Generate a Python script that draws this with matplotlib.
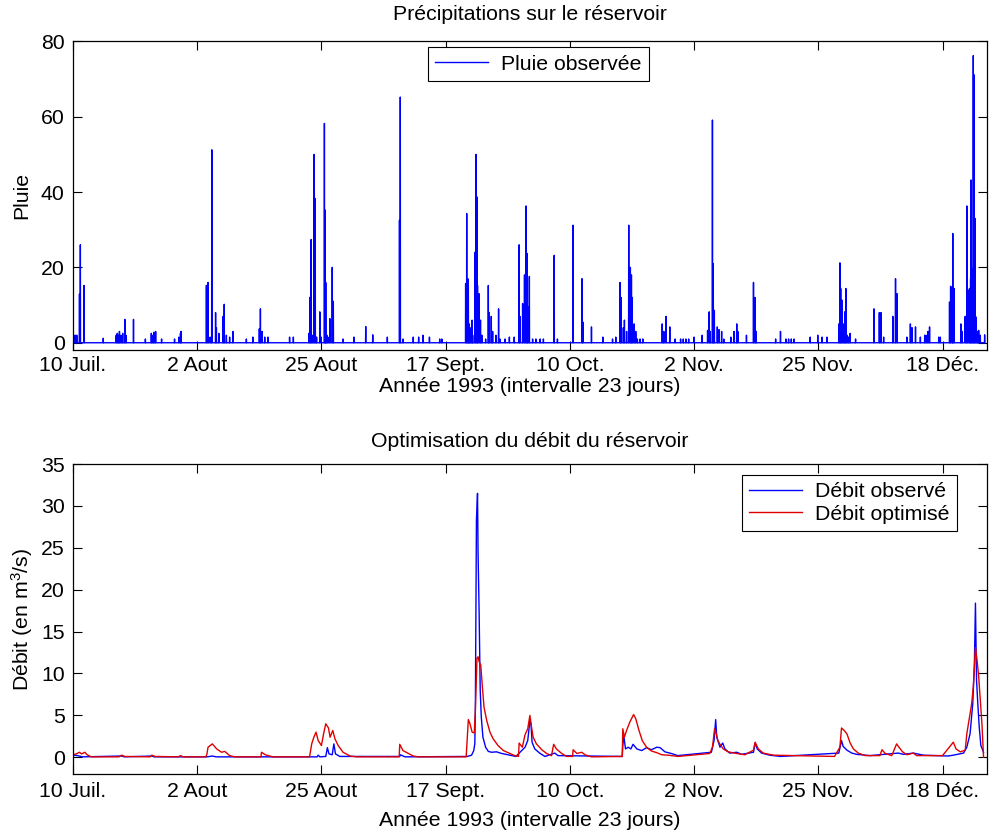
import numpy as np
import matplotlib
matplotlib.use("Agg")
import matplotlib.pyplot as plt

plt.rcParams["font.family"] = ["Liberation Sans", "DejaVu Sans"]
plt.rcParams["mathtext.fontset"] = "custom"
plt.rcParams["mathtext.rm"] = "Liberation Sans"
plt.rcParams["mathtext.it"] = "Liberation Sans:italic"

# ---- axis labels / ticks -------------------------------------------------
tick_days = [0, 23, 46, 69, 92, 115, 138, 161]
tick_labels = ["10 Juil.", "2 Aout", "25 Aout", "17 Sept.", "10 Oct.",
               "2 Nov.", "25 Nov.", "18 Déc."]
x_max = 169.3

# ---- rainfall events (day since 10 July 1993, mm) -------------------------
rain_day = [0.2, 0.5, 0.7, 1.2, 1.36, 2.04, 5.6, 8.0, 8.2, 8.4, 8.6, 8.9, 9.2,
            9.6, 9.8, 11.2, 13.4, 14.5, 14.8, 15.0, 15.3, 16.4, 18.8, 19.6,
            19.9, 20.0, 24.7, 25.0, 25.4, 25.7, 26.4, 26.55, 27.0, 27.8, 28.0,
            28.4, 29.0, 29.6, 32.1, 33.3,
            34.5, 34.7, 35.0, 35.5, 36.1, 40.1, 40.8, 43.7, 43.9, 44.1, 44.4,
            44.65, 44.85, 45.1, 45.7, 45.95, 46.55, 46.7, 46.8, 47.0, 47.2,
            47.55, 48.0, 48.2, 50.0, 52.0, 54.2, 55.5, 58.2, 60.45, 60.6, 61.1,
            63.0, 64.0, 64.8, 66.0,
            67.9, 68.3, 72.7, 72.9, 73.1, 73.2, 73.35, 73.5, 73.7, 73.9, 74.0,
            74.4, 74.6, 74.8, 74.9, 75.2, 75.45, 75.7, 76.4, 76.9, 77.05, 77.45,
            77.7, 78.3, 78.8, 79.05, 80.0, 80.8, 81.7, 82.6, 82.75, 83.25, 83.6,
            83.9, 84.1, 84.25, 84.5, 85.1, 85.7, 86.5, 87.1, 89.1, 89.7, 92.6,
            94.25, 94.4, 96.0, 98.1, 99.9, 100.5, 101.3, 101.5,
            101.9, 102.1, 102.5, 102.9, 103.2, 103.4, 103.55, 103.9, 104.2,
            104.5, 105.0, 105.5, 109.1, 109.4, 109.8, 110.5, 111.5, 112.5,
            113.0, 113.5, 114.0, 115.0, 116.5, 117.5, 117.8, 118.0, 118.4,
            118.55, 118.75, 119.3, 119.6, 120.1, 120.5, 121.8, 122.4, 122.9,
            123.1, 124.7, 126.0, 126.3, 126.5, 130.1, 131.0, 132.0, 132.5,
            133.0, 133.5,
            136.5, 137.9, 138.7, 139.6, 141.8, 142.0, 142.15, 142.4, 142.6,
            142.9, 143.1, 143.3, 143.6, 143.9, 144.9, 148.3, 149.3, 149.6,
            150.1, 151.8, 152.3, 152.6, 154.4, 155.05, 155.35, 156.0, 156.9,
            157.7, 157.95, 158.3, 158.6, 160.3, 160.6, 162.3, 162.5, 162.8,
            162.9, 163.15, 164.4, 164.6, 165.2, 165.5, 165.7, 166.0, 166.2,
            166.3, 166.5, 166.7, 166.85, 167.05, 167.25, 167.5, 167.7, 168.0,
            168.8]
rain_mm = [2, 2, 2, 12.9, 26, 15.2, 1.2, 2, 2.5, 2, 3, 2, 2.5,
           6.2, 2, 6.2, 1, 2.5, 2, 2.8, 3, 1, 1, 1.5,
           2.5, 3, 15.2, 16, 1.5, 51.2, 8, 4, 2.5, 7, 10.2,
           2, 1.5, 3, 1, 1.5,
           3.7, 9, 3, 1.5, 1.5, 1.5, 1.5, 2.5, 12.1, 27.4, 2,
           50, 38.3, 1.5, 8.2, 1.5, 58.2, 35.2, 16, 2, 1.5,
           6.4, 20, 11, 1, 1.5, 4.3, 2.1, 1.5, 32.5, 65.2, 1,
           1.5, 1.5, 2, 1.5,
           1, 1, 15.7, 34.3, 17, 15.2, 5, 3, 4, 6, 2,
           24, 50, 38.7, 15.2, 13, 6, 2, 1, 15.2, 8, 7,
           3, 2, 9, 1, 1, 1.5, 1.5, 26, 7, 10.4, 18,
           36.3, 23.7, 9.5, 17.6, 1, 1, 1, 1, 23.2, 1, 31.2,
           17, 5.5, 4.2, 1.5, 1, 1.5, 16, 12,
           4, 6, 3, 31.2, 20, 18, 12, 5, 3,
           1, 1, 1, 5, 3, 7, 4.2, 1, 1,
           1, 1, 1, 1.5, 2, 3.3, 8.2, 3, 59.1,
           21, 8.6, 4.2, 3.5, 3, 1, 1.5, 3, 5,
           3, 2, 16, 12, 3, 1, 3, 1, 1,
           1, 1,
           1.5, 2, 1.5, 1.5, 5, 21.2, 14.4, 11.3, 5,
           8.2, 14.4, 2, 1.5, 2.5, 1, 9, 8, 8,
           1.5, 7, 17, 13, 1.5, 5, 4, 4.2, 1.5,
           2, 2, 3, 4.2, 1.5, 1.5, 10.8, 15, 14.8,
           29, 14.4, 5, 3, 7, 36.3, 14, 14.4, 17,
           43.2, 19.7, 76.2, 71.1, 33, 6.8, 3, 3.3, 2,
           2.1]

# ---- reservoir outflow (day, m3/s) ---------------------------------------
obs_day = [0, 0.8, 1.8, 9.0, 9.5, 14.6, 15.0, 24.8, 25.8, 26.5, 45.2, 45.4,
           45.7, 46.8, 47.1, 47.4, 48.0, 48.3, 48.6, 49.4, 60.5, 60.6, 61.5,
           73.0, 73.8, 74.2, 74.4, 74.5, 74.7, 74.9, 75.0, 75.2, 75.4, 75.6,
           75.9, 76.4, 76.9, 77.5, 78.4, 79.4, 80.9, 82.0, 83.7, 84.2, 84.6,
           84.8, 85.0, 85.5, 86.5, 87.4, 89.2, 89.8, 101.7, 101.8, 102.0,
           102.3, 102.8, 103.3, 103.7, 104.4, 105.3, 106.2, 107.1, 108.1,
           108.7, 109.6, 110.8, 112.0, 118.2, 118.7, 119.0, 119.2, 119.5,
           119.8, 120.3, 120.7, 121.6, 122.9, 123.8, 126.0, 126.3, 126.7,
           127.5, 129.0, 131.0, 141.8, 142.3, 142.6, 143.3, 144.2, 145.1,
           147.6, 152.8, 153.8, 155.6, 157.5, 162.0, 163.0, 164.9, 165.5,
           166.1, 166.6, 166.9, 167.1, 167.3, 167.5, 167.8, 168.1, 168.6]
obs_q = [0.25, 0.2, 0.05, 0.15, 0.05, 0.15, 0.05, 0.05, 0.15, 0.05, 0.05, 0.25,
         0.05, 0.1, 1.15, 0.4, 0.3, 1.6, 0.4, 0.1, 0.1, 0.3, 0.05,
         0.1, 0.25, 0.8, 1.6, 5.6, 28.3, 31.5, 24.5, 17.2, 8.0, 4.8,
         2.4, 1.2, 0.7, 0.6, 0.65, 0.45, 0.25, 0.1, 1.2, 2.0, 4.4,
         4.0, 1.8, 1.0, 0.45, 0.1, 0.5, 0.2, 0.1, 1.45, 2.5,
         1.0, 1.2, 1.0, 1.55, 1.0, 0.8, 1.15, 0.9, 1.2,
         1.15, 0.65, 0.45, 0.2, 0.6, 2.0, 4.5, 2.4, 1.8,
         1.2, 1.7, 1.0, 0.5, 0.6, 0.35, 0.6, 1.7, 1.0,
         0.5, 0.25, 0.1, 0.5, 2.0, 1.3, 0.85, 0.5, 0.35,
         0.2, 0.5, 0.35, 0.5, 0.25, 0.15, 0.25, 0.5, 1.2,
         2.8, 6.4, 11.0, 18.4, 9.2, 6.8, 3.6, 1.4, 0.6]

opt_day = [0, 0.6, 1.2, 1.6, 2.2, 2.6, 3.4, 8.5, 9.0, 9.6, 14.3, 14.6, 15.2,
           19.5, 19.9, 20.4, 24.6, 24.8, 25.0, 25.8, 26.6, 27.5, 28.1, 29.0,
           30.0, 34.8, 34.9, 35.6, 37.0, 43.8, 44.2, 44.6, 45.0, 45.4, 46.0,
           46.4, 46.8, 47.3, 47.6, 48.1, 48.5, 49.1, 50.0, 51.3, 52.5, 60.4,
           60.5, 61.1, 62.1, 63.0, 64.0, 72.8, 72.9, 73.2, 73.5, 73.9, 74.3,
           74.5, 74.8, 75.0, 75.2, 75.5, 75.8, 76.1, 76.6, 77.2, 77.8, 78.7,
           79.7, 80.9, 81.8, 82.5, 82.6, 83.2, 83.7, 84.2, 84.6, 84.9, 85.2,
           85.8, 86.8, 87.7, 88.6, 89.0, 89.5, 90.5, 91.4, 92.5, 92.6, 93.3,
           94.2, 94.8, 96.0, 101.7, 101.8, 102.1, 102.5, 103.1, 103.8, 104.2,
           104.8, 105.4, 106.2, 107.1, 108.1, 109.0, 110.2, 112.0, 117.9,
           118.4, 118.8, 119.1, 119.4, 119.8, 120.4, 121.3, 122.9, 124.4,
           126.0, 126.3, 126.9, 127.8, 129.7, 141.0, 142.0, 142.3, 142.8,
           143.3, 143.9, 144.5, 145.4, 146.7, 149.4, 149.8, 150.4, 151.6,
           152.5, 153.0, 153.6, 154.4, 155.6, 156.2, 161.0, 163.0, 163.5,
           164.3, 165.2, 165.5, 166.0, 166.4, 166.7, 167.1, 167.4, 167.7,
           168.0, 168.3, 168.6]
opt_q = [0.3, 0.4, 0.6, 0.4, 0.6, 0.3, 0.05, 0.05, 0.25, 0.1, 0.05, 0.25, 0.1,
         0.05, 0.2, 0.05, 0.05, 0.4, 1.2, 1.6, 1.0, 0.6, 0.7, 0.2,
         0.05, 0.05, 0.6, 0.3, 0.05, 0.05, 1.6, 2.4, 3.0, 2.0, 1.4,
         2.8, 4.0, 3.5, 2.4, 3.2, 2.2, 1.4, 0.6, 0.15, 0.05, 0.05,
         1.55, 0.8, 0.45, 0.15, 0.05, 0.05, 1.2, 4.5, 4.0, 3.0, 2.9,
         5.6, 11.8, 12.0, 11.4, 11.0, 8.4, 6.0, 4.4, 3.0, 2.2, 1.4,
         0.8, 0.45, 0.2, 0.1, 1.7, 1.2, 2.7, 3.4, 5.0, 3.6, 2.4,
         1.6, 0.9, 0.45, 0.2, 1.55, 1.0, 0.45, 0.1, 0.1, 0.9, 0.45,
         0.6, 0.3, 0.05, 0.1, 3.4, 2.4, 3.2, 4.2, 5.1, 4.6,
         3.2, 2.0, 1.2, 0.75, 0.55, 0.3, 0.25, 0.1, 0.45,
         1.2, 3.4, 2.8, 2.0, 1.55, 1.0, 0.65, 0.45, 0.3,
         0.85, 1.8, 1.0, 0.5, 0.25, 0.1, 1.2, 3.5, 3.2,
         2.8, 1.7, 1.0, 0.5, 0.2, 0.2, 0.9, 0.45, 0.2,
         1.6, 1.15, 0.65, 0.3, 0.5, 0.2, 0.2, 1.8, 1.0,
         0.65, 0.85, 2.8, 4.8, 6.4, 8.4, 13.1, 11.6, 9.6,
         6.8, 4.0, 0.0]

FS = 15.3
BLUE = "#0000ff"
RED = "#e00000"

fig = plt.figure(figsize=(9.96, 8.34), dpi=100)
ax1 = fig.add_axes([0.0733, 0.580, 0.918, 0.3705])
ax2 = fig.add_axes([0.0733, 0.0719, 0.918, 0.3717])


def matlab_axes(ax, yticks, ylim, xpad, xlabelpad):
    ax.set_xlim(0, x_max)
    ax.set_ylim(*ylim)
    ax.set_xticks(tick_days)
    ax.set_xticklabels(tick_labels)
    ax.set_yticks(yticks)
    ax.tick_params(direction="in", length=6.5, width=0.8, top=True,
                   right=True, labelsize=FS, pad=6, colors="black")
    ax.tick_params(axis="x", pad=xpad)
    for s in ax.spines.values():
        s.set_linewidth(0.9)
        s.set_color("black")
    ax.set_xlabel("Année 1993 (intervalle 23 jours)", fontsize=FS,
                  labelpad=xlabelpad)


def matlab_legend(ax, anchor, loc):
    leg = ax.legend(loc=loc, bbox_to_anchor=anchor, borderaxespad=0,
                    fontsize=FS, fancybox=False, edgecolor="black",
                    framealpha=1, handlelength=2.5, handletextpad=0.6,
                    borderpad=0.35, labelspacing=0.15)
    leg.get_frame().set_linewidth(0.8)
    return leg


# ---- top panel: rainfall spikes ------------------------------------------
d = np.asarray(rain_day)
v = np.asarray(rain_mm)
w = 0.03
xs = np.column_stack([d - w, d, d + w]).ravel()
ys = np.column_stack([np.zeros_like(v), v, np.zeros_like(v)]).ravel()
xs = np.concatenate([[0.0], xs])
ys = np.concatenate([[0.0], ys])
ax1.plot(xs, ys, color=BLUE, lw=1.0, label="Pluie observée")
matlab_axes(ax1, [0, 20, 40, 60, 80], (-2, 80), 4, 1.5)
ax1.set_ylabel("Pluie", fontsize=FS, labelpad=7)
ax1.set_title("Précipitations sur le réservoir", fontsize=FS, pad=15)
matlab_legend(ax1, (0.388, 0.981), "upper left")

# ---- bottom panel: observed vs optimised outflow --------------------------
ax2.plot(obs_day, obs_q, color=BLUE, lw=1.0, label="Débit observé")
ax2.plot(opt_day, opt_q, color=RED, lw=1.0, label="Débit optimisé")
matlab_axes(ax2, [0, 5, 10, 15, 20, 25, 30, 35], (-2, 35), 6, 7)
ax2.set_ylabel("Débit (en m$^3$/s)", fontsize=FS, labelpad=4)
ax2.set_title("Optimisation du débit du réservoir", fontsize=FS, pad=12)
matlab_legend(ax2, (0.967, 0.9645), "upper right")

fig.savefig("out.png", dpi=100, facecolor="white")
